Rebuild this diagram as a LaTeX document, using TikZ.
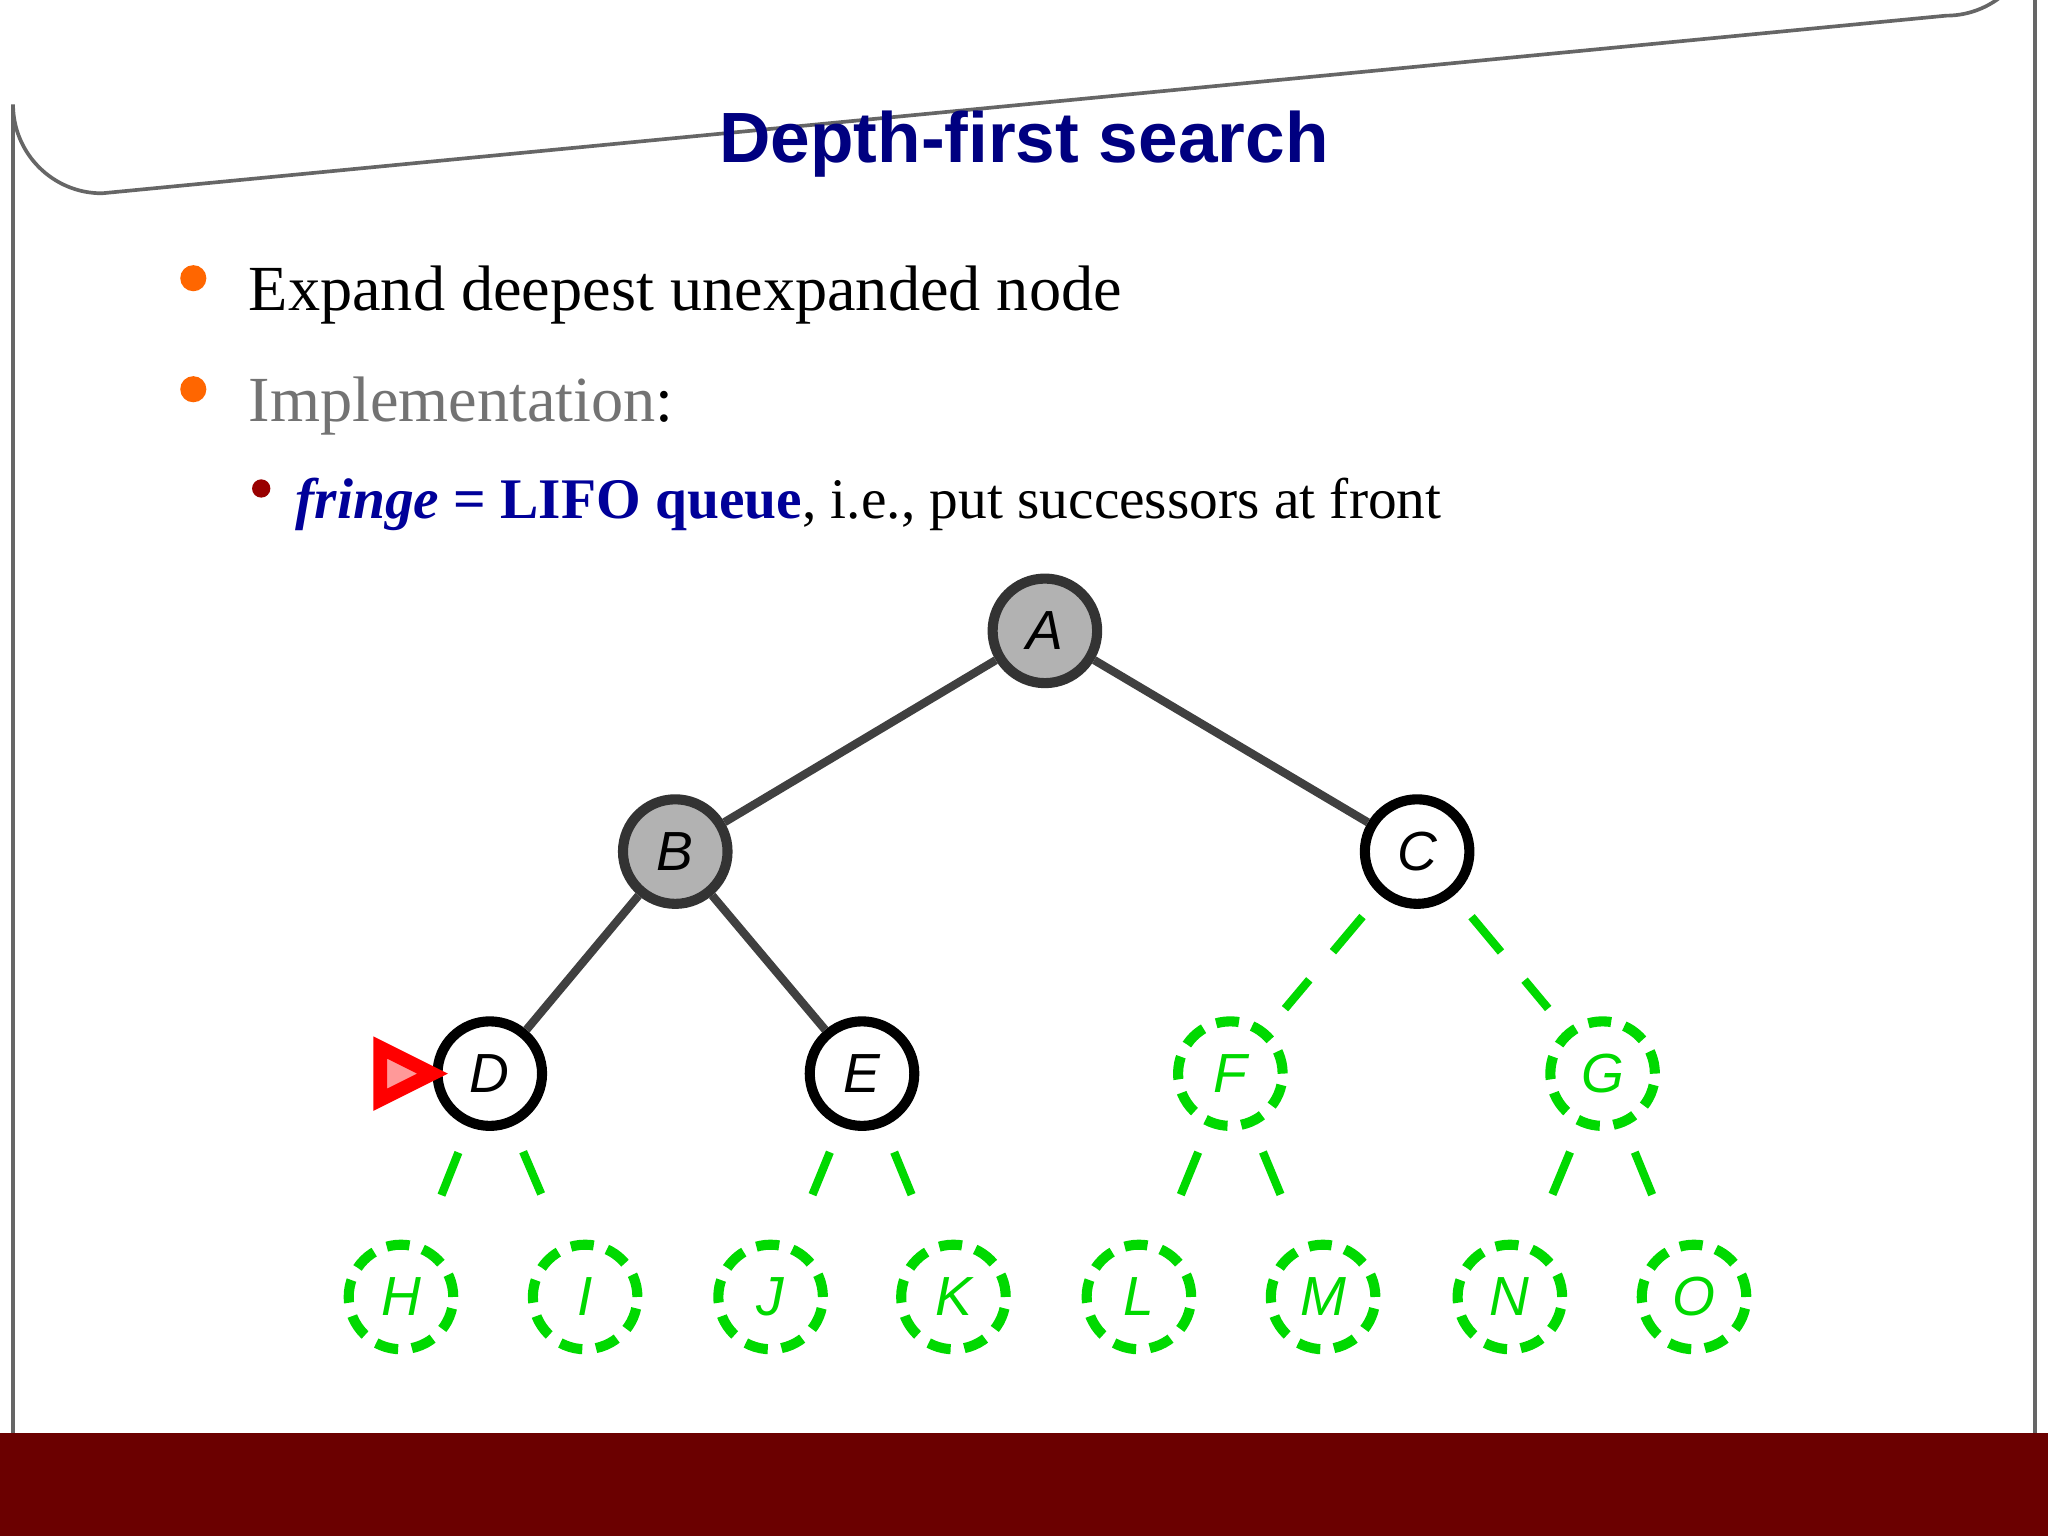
\documentclass[tikz,border=0pt]{standalone}
\usepackage{fontspec}
\setmainfont{Liberation Serif}
\setsansfont{Liberation Sans}
\begin{document}
\begin{tikzpicture}[x=0.01cm,y=-0.01cm,
  tn/.style={circle,minimum size=0.8cm,inner sep=0pt,line width=2.2pt,font=\sffamily\itshape\large},
  expd/.style={tn,draw=black!80,fill=black!30},
  open/.style={tn,draw=black,fill=white},
  unseen/.style={tn,draw=green!85!black,dashed,dash pattern=on 5pt off 3pt,text=green!85!black},
  e/.style={line width=1.8pt,black!75},
  ge/.style={line width=1.8pt,green!85!black,dash pattern=on 10pt off 8pt,shorten <=6pt,shorten >=6pt}]
\useasboundingbox (0,0) rectangle (1568,1176);
\fill[white] (0,0) rectangle (1568,1176);
\draw[black!60,line width=0.8pt] (10,1100) -- (10,80) arc[start angle=180,end angle=90,radius=68] -- (1490,12) arc[start angle=90,end angle=0,radius=68] -- (1558,1100);
\fill[red!40!black!85] (0,1097) rectangle (1568,1176);
\fill[red!42!black] (0,1097) rectangle (1568,1176);
\node[font=\sffamily\bfseries\fontsize{15.5}{18}\selectfont,text=blue!50!black] (title) at (784,110) {Depth-first search};
\fill[orange!80!red] (148,213) circle (10);
\fill[orange!80!red] (148,298) circle (10);
\fill[red!60!black] (200,374) circle (7);
\node[anchor=base west,font=\fontsize{14}{16}\selectfont] (b1) at (178,238) {Expand deepest unexpanded node};
\node[anchor=base west,font=\fontsize{14}{16}\selectfont] (b2) at (178,323) {\textcolor{black!55}{Implementation}:};
\node[anchor=base west,font=\fontsize{12.5}{15}\selectfont] (b3) at (214,397) {\textcolor{blue!60!black}{\textit{\textbf{fringe}} \textbf{= LIFO queue}}, i.e., put successors at front};
\node[expd] (A) at (800,483) {A};
\node[expd] (B) at (517,652) {B};
\node[open] (C) at (1085,652) {C};
\node[open] (D) at (375,822) {D};
\node[open] (E) at (660,822) {E};
\node[unseen] (F) at (942,822) {F};
\node[unseen] (G) at (1227,822) {G};
\foreach \n/\x in {H/307,I/448,J/590,K/730,L/872,M/1013,N/1156,O/1297}
  \node[unseen] (\n) at (\x,993) {\n};
\draw[e] (A) -- (B); \draw[e] (A) -- (C);
\draw[e] (B) -- (D); \draw[e] (B) -- (E);
\draw[ge] (C) -- (F); \draw[ge] (C) -- (G);
\draw[ge] (D) -- (H); \draw[ge] (D) -- (I);
\draw[ge] (E) -- (J); \draw[ge] (E) -- (K);
\draw[ge] (F) -- (L); \draw[ge] (F) -- (M);
\draw[ge] (G) -- (N); \draw[ge] (G) -- (O);
\draw[red,line width=3pt,fill=red!40] (D.west) -- ++(-40,-20) -- ++(0,40) -- cycle;
\end{tikzpicture}
\end{document}
